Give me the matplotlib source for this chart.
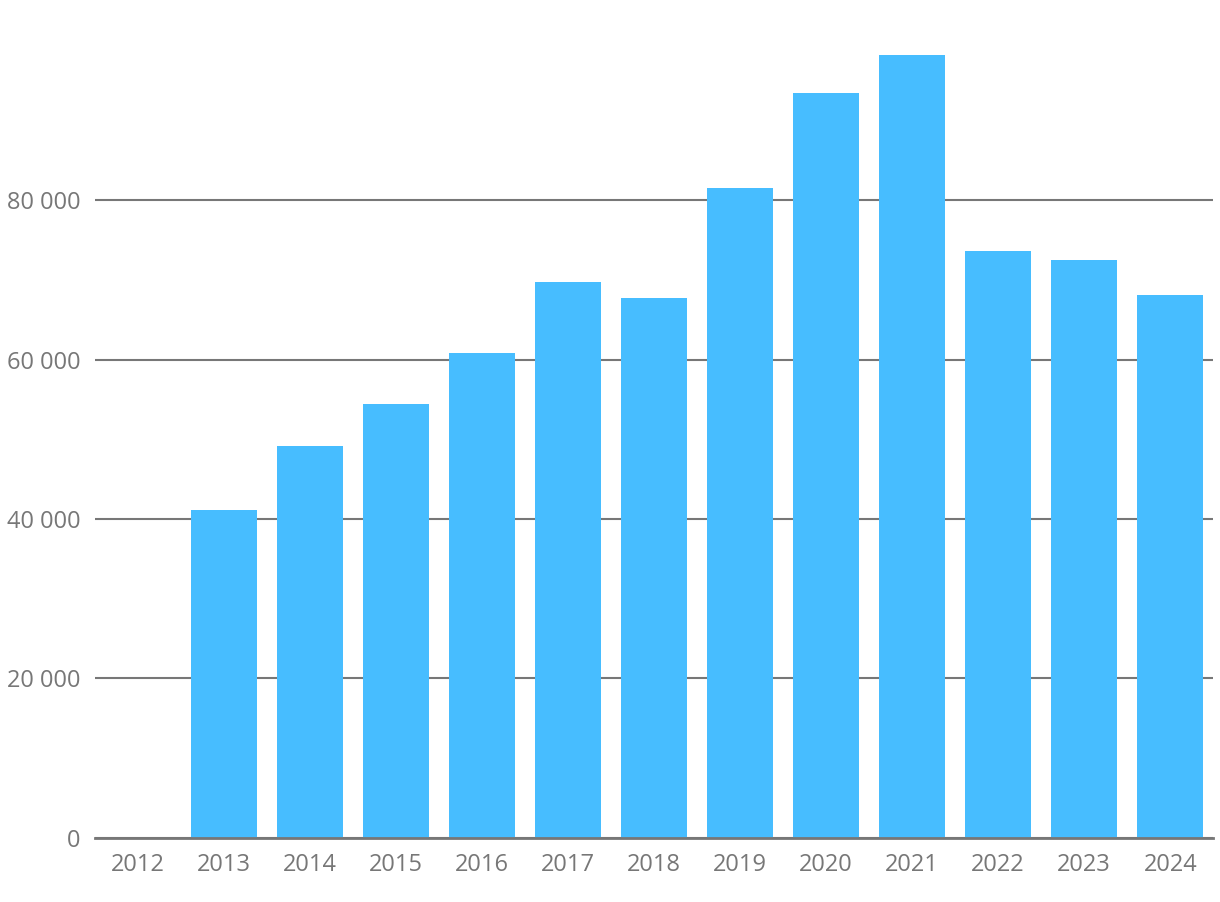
import matplotlib
matplotlib.use("Agg")
import matplotlib.pyplot as plt
from matplotlib.ticker import FuncFormatter

years = ["2012", "2013", "2014", "2015", "2016", "2017", "2018",
         "2019", "2020", "2021", "2022", "2023", "2024"]
values = [0, 41100, 49150, 54400, 60800, 69700, 67700,
          81500, 93400, 98200, 73600, 72500, 68100]
yticks = [0, 20000, 40000, 60000, 80000]

plt.rcParams['font.family'] = ['Open Sans', 'DejaVu Sans']

fig = plt.figure(figsize=(12.2, 9.02), dpi=100)
ax = fig.add_axes([0.0775, 0.071, 0.917, 0.884])

x = list(range(len(years)))
ax.bar(x, values, width=0.767, color="#47BDFF", zorder=2)

ax.set_xlim(-0.5, len(years) - 0.5)
ax.set_ylim(0, 100000)
ax.set_xticks(x)
ax.set_xticklabels(years)
ax.set_yticks(yticks)
ax.yaxis.set_major_formatter(FuncFormatter(lambda v, p: f"{int(v):,}".replace(",", " ")))

ax.grid(axis="y", color="#777777", linewidth=1.5, zorder=1)
ax.set_axisbelow(True)
for s in ["top", "right", "left"]:
    ax.spines[s].set_visible(False)
ax.spines["bottom"].set_color("#777777")
ax.spines["bottom"].set_linewidth(2)
ax.spines["bottom"].set_zorder(3)
ax.tick_params(axis="both", length=0, labelsize=17, labelcolor="#777777")
ax.tick_params(axis="x", pad=11)
ax.tick_params(axis="y", pad=10)

fig.savefig("out.png", dpi=100)
